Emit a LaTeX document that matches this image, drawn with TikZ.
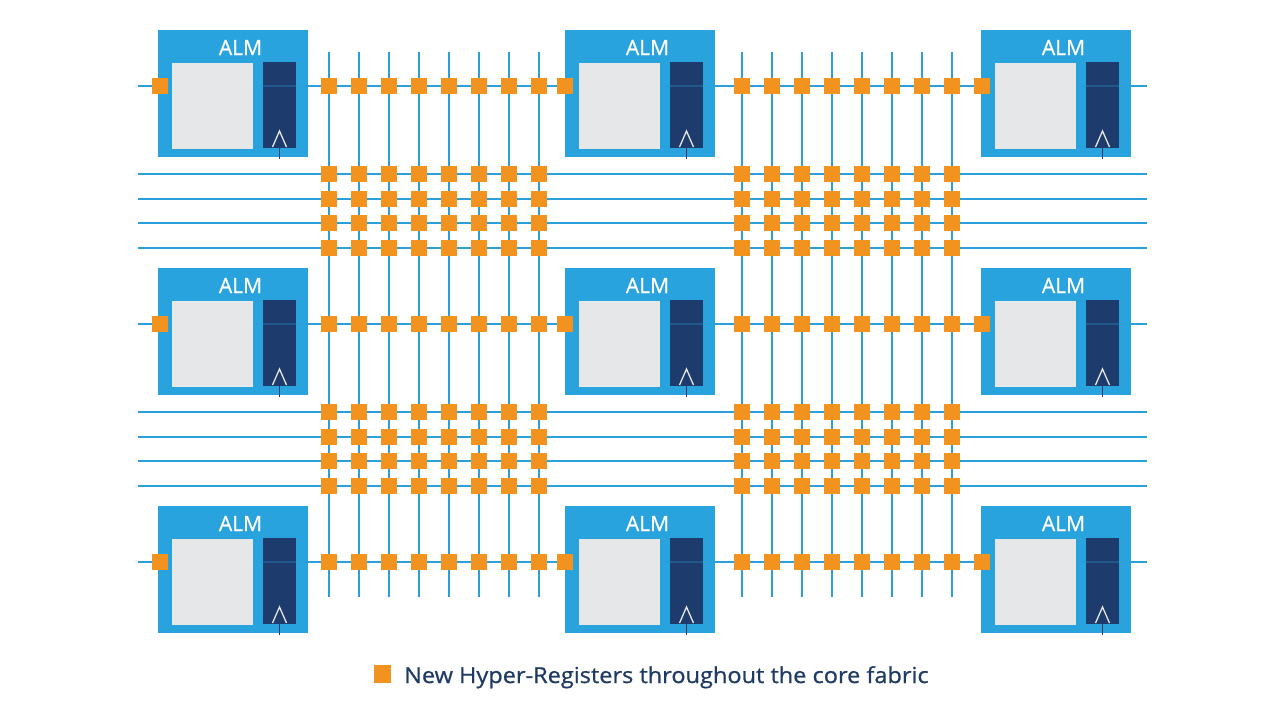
\documentclass[tikz,border=0pt]{standalone}
\usepackage{fontspec}
\setmainfont{Open Sans}
\newfontfamily\semifont{Open Sans}[FakeBold=0.7]
\definecolor{almblue}{HTML}{29A3DD}
\definecolor{wire}{HTML}{2B9FD9}
\definecolor{navy}{HTML}{1D3B6C}
\definecolor{lut}{HTML}{E6E7E9}
\definecolor{reg}{HTML}{F3931F}
\definecolor{legtext}{HTML}{1F3B63}
\begin{document}
\begin{tikzpicture}[x=1pt,y=-1pt,
  almbox/.style={fill=almblue,draw=none,minimum width=150pt,minimum height=127pt,inner sep=0pt,anchor=north west},
  wireline/.style={draw=wire,line width=2.6pt},
  hreg/.style={fill=reg,draw=none,minimum width=16pt,minimum height=16pt,inner sep=0pt},
  almlabel/.style={text=white,font=\semifont\fontsize{21}{24}\selectfont,inner sep=0pt},
  clk/.style={draw=lut,line width=1.3pt,line join=miter},
]
\useasboundingbox (0,0) rectangle (1280,721);
\fill[white] (0,0) rectangle (1280,721);
% ALM outer boxes
\foreach \ax/\cn in {158/a,565/b,981/c}{
  \foreach \ry/\rn in {30/1,268/2,506/3}{
    \node[almbox] (alm-\cn\rn) at (\ax,\ry) {};
  }
}
% vertical wires
\foreach \vx [count=\i] in {329,359,389,419,449,479,509,539,742,772,802,832,862,892,922,952}{
  \coordinate (vt\i) at (\vx,52);
  \coordinate (vb\i) at (\vx,597);
  \draw[wireline] (vt\i) -- (vb\i);
}
% horizontal wires
\foreach \hy [count=\j] in {86,174,199,223,248,324,412,437,461,486,562}{
  \coordinate (hl\j) at (138,\hy);
  \coordinate (hr\j) at (1147,\hy);
  \draw[wireline] (hl\j) -- (hr\j);
}
% ALM inner parts
\foreach \ax/\cn in {158/a,565/b,981/c}{
  \foreach \ry/\rn in {30/1,268/2,506/3}{
    \fill[lut] (\ax+14,\ry+33) rectangle (\ax+95,\ry+119);
    \fill[navy] (\ax+105,\ry+32) rectangle (\ax+138,\ry+118);
    \draw[wire,opacity=0.3,line width=1.5pt] (\ax+105,\ry+56) -- (\ax+138,\ry+56);
    \draw[clk] (\ax+114.5,\ry+117) -- (\ax+121.5,\ry+101) -- (\ax+128.5,\ry+117);
    \draw[navy,line width=1.6pt] (\ax+121.5,\ry+117) -- (\ax+121.5,\ry+129);
    \node[almlabel] (lab-\cn\rn) at (\ax+82.5,\ry+17.5) {ALM};
  }
}
% registers on ALM rows
\foreach \hy [count=\j] in {86,324,562}{
  \foreach \vx [count=\i] in {160,329,359,389,419,449,479,509,539,565,742,772,802,832,862,892,922,952,982}{
    \node[hreg] (rr-\j-\i) at (\vx,\hy) {};
  }
}
% registers in routing bundles
\foreach \hy [count=\j] in {174,199,223,248,412,437,461,486}{
  \foreach \vx [count=\i] in {329,359,389,419,449,479,509,539,742,772,802,832,862,892,922,952}{
    \node[hreg] (rb-\j-\i) at (\vx,\hy) {};
  }
}
% legend
\node[fill=reg,minimum width=17pt,minimum height=18pt,inner sep=0pt] (legsq) at (382,674) {};
\node[anchor=base west,inner sep=0pt,text=legtext,font=\semifont\fontsize{22}{26}\selectfont] (legtxt) at (404,683) {\scalebox{1.07}[1]{New Hyper-Registers throughout the core fabric}};
\end{tikzpicture}
\end{document}
